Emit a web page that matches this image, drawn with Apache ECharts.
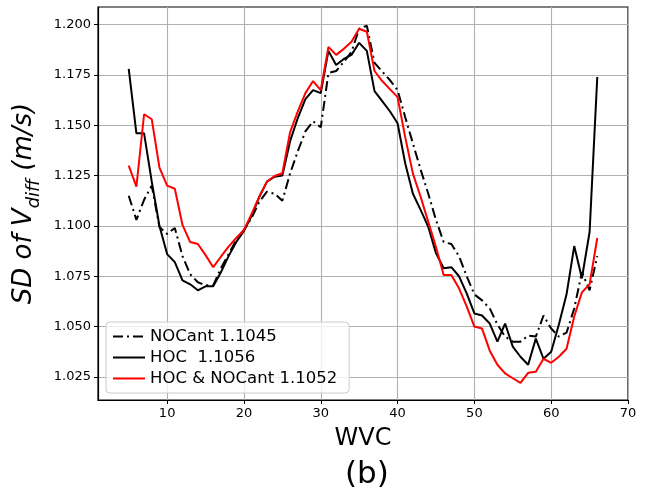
<!DOCTYPE html>
<html>
<head>
<meta charset="utf-8">
<script src="https://cdn.jsdelivr.net/npm/echarts@6/dist/echarts.min.js"></script>
<style>
html,body{margin:0;padding:0;background:#fff;}
#chart{width:645px;height:501px;}
</style>
</head>
<body>
<div id="chart"></div>
<script>
// WVC categories (x values)
var wvc = [5,6,7,8,9,10,11,12,13,14,15,16,17,18,19,20,21,22,23,24,25,26,27,28,29,30,31,32,33,34,35,
           36,37,38,39,40,41,42,43,44,45,46,47,48,49,50,51,52,53,54,55,56,57,58,59,60,61,62,63,64,65,66];

var nocant = [1.115,1.103,1.113,1.120,1.0995,1.096,1.099,1.085,1.076,1.072,1.0705,1.0705,1.079,1.086,1.093,1.098,
              1.104,1.112,1.117,1.116,1.1125,1.126,1.137,1.147,1.152,1.149,1.176,1.177,1.1815,1.1865,1.198,
              1.1995,1.181,1.1767,1.1725,1.1675,1.154,1.141,1.128,1.116,1.103,1.092,1.091,1.085,1.075,1.066,
              1.063,1.059,1.051,1.045,1.0425,1.0425,1.0455,1.045,1.0555,1.049,1.045,1.047,1.059,1.077,1.068,1.085];

var hoc = [1.178,1.146,1.146,1.122,1.100,1.086,1.082,1.073,1.071,1.068,1.070,1.070,1.077,1.085,1.092,1.0975,
           1.105,1.1145,1.122,1.1245,1.125,1.142,1.1535,1.163,1.1675,1.166,1.187,1.180,1.183,1.185,1.191,
           1.187,1.167,1.162,1.157,1.151,1.131,1.116,1.108,1.0995,1.0865,1.079,1.0795,1.075,1.0665,1.0565,
           1.0555,1.0515,1.0425,1.0515,1.040,1.035,1.031,1.044,1.034,1.0375,1.051,1.066,1.090,1.074,1.097,1.174];

var hocNocant = [1.130,1.1195,1.1555,1.153,1.129,1.120,1.1185,1.1005,1.092,1.091,1.0855,1.0795,1.0847,1.0897,1.094,1.098,
                 1.106,1.1145,1.122,1.1248,1.1262,1.1465,1.1568,1.166,1.172,1.1675,1.189,1.185,1.188,1.1915,1.198,
                 1.1965,1.177,1.172,1.168,1.164,1.144,1.126,1.1145,1.102,1.0895,1.0756,1.0756,1.069,1.060,1.050,
                 1.049,1.038,1.031,1.0267,1.0243,1.022,1.027,1.0275,1.034,1.032,1.035,1.039,1.055,1.067,1.071,1.094];

var xTicks = [10,20,30,40,50,60,70];
var yTicks = [1.025,1.050,1.075,1.100,1.125,1.150,1.175,1.200];

var seriesNames = ['NOCant 1.1045', 'HOC  1.1056', 'HOC & NOCant 1.1052'];

function pairs(ys){ return wvc.map(function(x,i){ return [x, ys[i]]; }); }

// legend sample glyphs (32 x 14 box, 2px thick line)
var bbox = 'M0,0L0.01,0L0,0.01Z M32,14L31.99,14L32,13.99Z ';
var solidIcon = 'path://' + bbox + 'M0,6L32,6L32,8L0,8Z';
var dashDotIcon = 'path://' + bbox + 'M0,6L10,6L10,8L0,8Z M14,6L16,6L16,8L14,8Z M20,6L30,6L30,8L20,8Z';

var chart = echarts.init(document.getElementById('chart'), null, {renderer:'canvas'});
var font = 'DejaVu Sans';
var option = {
  animation: false,
  backgroundColor: '#fff',
  textStyle: {fontFamily: font},
  grid: {left: 98, right: 17, top: 7, bottom: 101, show: true, borderColor: '#000', borderWidth: 1.2, backgroundColor: 'transparent'},
  legend: {
    data: [
      {name: seriesNames[0], icon: dashDotIcon},
      {name: seriesNames[1], icon: solidIcon},
      {name: seriesNames[2], icon: solidIcon}
    ],
    orient: 'vertical',
    left: 106, top: 322,
    itemWidth: 32, itemHeight: 14, itemGap: 4,
    padding: [6, 12, 6, 7],
    backgroundColor: 'rgba(255,255,255,0.8)',
    borderColor: '#cccccc', borderWidth: 1, borderRadius: 4,
    textStyle: {fontFamily: font, fontSize: 16.5, color: '#000'}
  },
  xAxis: {
    type: 'value', min: 1, max: 70,
    name: 'WVC', nameLocation: 'middle', nameGap: 27,
    nameTextStyle: {fontFamily: font, fontSize: 24, color: '#000'},
    axisLine: {show: true, lineStyle: {color: '#000', width: 1.2}},
    axisTick: {show: true, length: 4, lineStyle: {color: '#000', width: 1}, customValues: xTicks},
    axisLabel: {color: '#000', fontSize: 13, fontFamily: font, margin: 7, customValues: xTicks},
    splitLine: {show: true, lineStyle: {color: '#b0b0b0', width: 1.1}}
  },
  yAxis: {
    type: 'value', min: 1.0135, max: 1.2088,
    name: '{a|SD of V}{b|diff}{a| (m/s)}', nameLocation: 'middle', nameGap: 56,
    nameTextStyle: {
      rich: {
        a: {fontFamily: font, fontSize: 26, fontStyle: 'italic', color: '#000', lineHeight: 32, verticalAlign: 'bottom'},
        b: {fontFamily: font, fontSize: 18, fontStyle: 'italic', color: '#000', lineHeight: 32, verticalAlign: 'bottom', padding: [0,0,-6,0]}
      }
    },
    axisLine: {show: true, lineStyle: {color: '#000', width: 1.2}},
    axisTick: {show: true, length: 4, lineStyle: {color: '#000', width: 1}, customValues: yTicks},
    axisLabel: {color: '#000', fontSize: 13, fontFamily: font, margin: 7, customValues: yTicks,
      formatter: function(v){ return v.toFixed(3); }},
    splitLine: {show: true, lineStyle: {color: '#b0b0b0', width: 1.1}}
  },
  series: [
    {name: seriesNames[0], type: 'line', data: pairs(nocant), symbol: 'none', z: 3,
     lineStyle: {color: '#000', width: 2, type: [10, 4, 2, 4]}, itemStyle: {color: '#000'}},
    {name: seriesNames[1], type: 'line', data: pairs(hoc), symbol: 'none', z: 4,
     lineStyle: {color: '#000', width: 2}, itemStyle: {color: '#000'}},
    {name: seriesNames[2], type: 'line', data: pairs(hocNocant), symbol: 'none', z: 5,
     lineStyle: {color: '#ff0000', width: 2}, itemStyle: {color: '#ff0000'}}
  ],
  graphic: [
    {type: 'text', left: 345, top: 459, style: {text: '(b)', fontFamily: font, fontSize: 31, fill: '#000'}}
  ]
};
chart.setOption(option);
</script>
</body>
</html>
